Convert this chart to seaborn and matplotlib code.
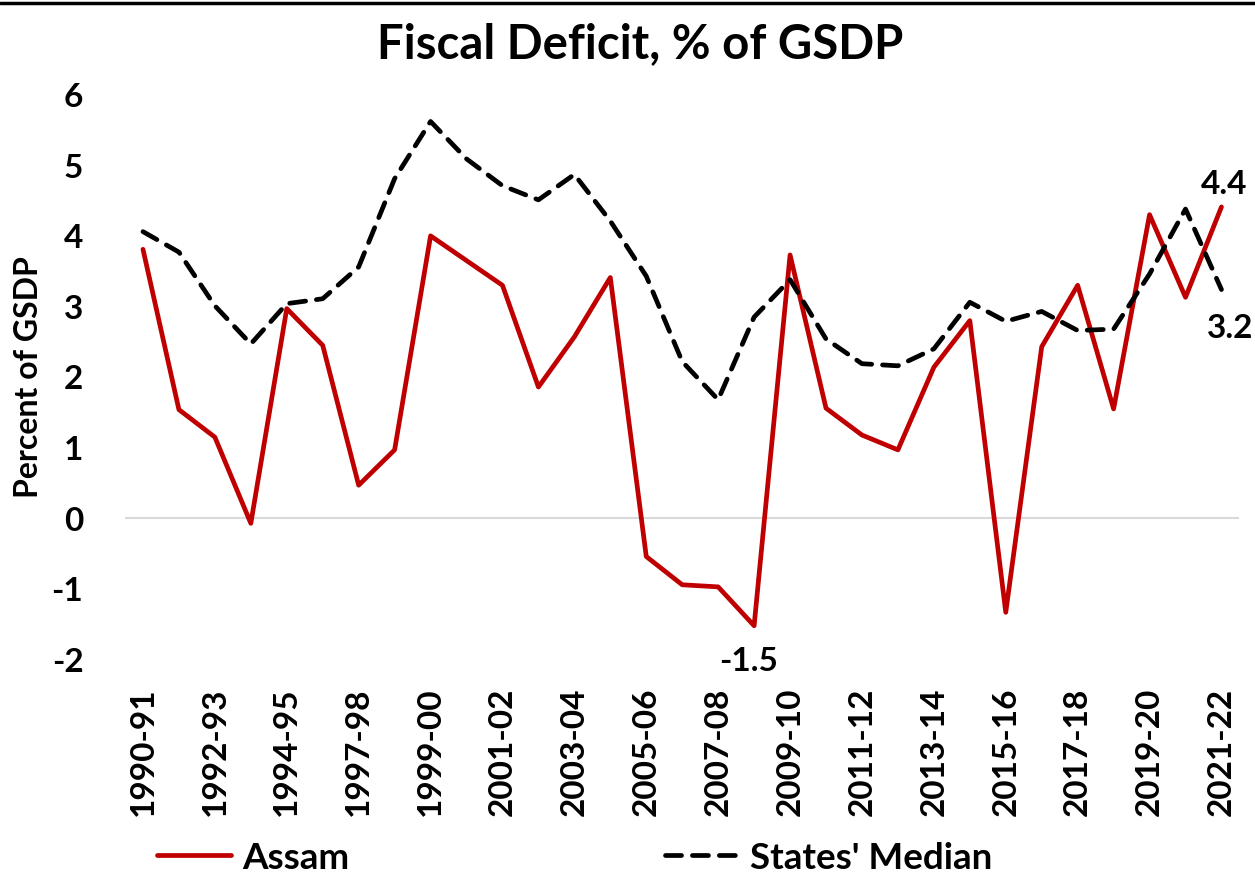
import matplotlib
matplotlib.use('Agg')
import matplotlib.pyplot as plt
from matplotlib.lines import Line2D
import seaborn as sns
import pandas as pd

# Data
years = ['1990-91', '1991-92', '1992-93', '1993-94', '1994-95', '1995-96',
         '1997-98', '1998-99', '1999-00', '2000-01', '2001-02', '2002-03',
         '2003-04', '2004-05', '2005-06', '2006-07', '2007-08', '2008-09',
         '2009-10', '2010-11', '2011-12', '2012-13', '2013-14', '2014-15',
         '2015-16', '2016-17', '2017-18', '2018-19', '2019-20', '2020-21',
         '2021-22']
assam = [3.80, 1.53, 1.14, -0.08, 2.96, 2.44, 0.46, 0.96, 3.99, 3.64, 3.29,
         1.85, 2.56, 3.40, -0.55, -0.95, -0.98, -1.53, 3.72, 1.55, 1.17,
         0.96, 2.13, 2.79, -1.34, 2.42, 3.29, 1.54, 4.29, 3.12, 4.40]
median = [4.05, 3.76, 3.00, 2.46, 3.03, 3.10, 3.55, 4.80, 5.61, 5.08, 4.70,
          4.50, 4.86, 4.20, 3.42, 2.21, 1.67, 2.84, 3.37, 2.53, 2.18,
          2.15, 2.39, 3.05, 2.78, 2.92, 2.65, 2.67, 3.45, 4.37, 3.23]

sns.set_style("white")
plt.rcParams['font.family'] = ['Lato', 'DejaVu Sans']
plt.rcParams['font.weight'] = 'bold'
plt.rcParams['axes.unicode_minus'] = False
plt.rcParams['text.color'] = 'black'
plt.rcParams['axes.labelcolor'] = 'black'
plt.rcParams['xtick.color'] = 'black'
plt.rcParams['ytick.color'] = 'black'

df = pd.DataFrame({'year': years, 'Assam': assam, "States' Median": median})

fig = plt.figure(figsize=(12.55, 8.87), dpi=100)
ax = fig.add_axes([0.0996, 0.256, 0.888, 0.637])

sns.lineplot(data=df, x='year', y='Assam', ax=ax, color='#c00000',
             linewidth=3.4, label='Assam', sort=False)
sns.lineplot(data=df, x='year', y="States' Median", ax=ax, color='black',
             linewidth=3.4, label="States' Median", sort=False)
ax.lines[1].set_dashes((3.4, 2.3))
ax.lines[1].set_dash_capstyle('round')

ax.axhline(0, color='#d9d9d9', linewidth=1.5, zorder=0)

ax.set_xlim(-0.5, len(years) - 0.5)
ax.set_ylim(-2, 6)
ax.set_yticks(range(-2, 7))
ax.set_xticks(range(0, len(years), 2))
ax.set_xticklabels(years[::2], rotation=90)
ax.tick_params(axis='x', labelsize=24, pad=20, length=0)
ax.tick_params(axis='y', labelsize=24, pad=30, length=0)
for spine in ax.spines.values():
    spine.set_visible(False)

ax.set_xlabel('')
ax.set_ylabel('Percent of GSDP', fontsize=23, fontweight='bold', labelpad=6)

# end / min labels
ax.annotate(f'{assam[-1]:.1f}', (len(years) - 1, assam[-1]),
            xytext=(2, 17), textcoords='offset points',
            ha='center', va='center', fontsize=24)
ax.annotate(f'{median[-1]:.1f}', (len(years) - 1, median[-1]),
            xytext=(6, -27), textcoords='offset points',
            ha='center', va='center', fontsize=24)
imin = assam.index(min(assam))
ax.annotate(f'{assam[imin]:.1f}', (imin, assam[imin]),
            xytext=(-4, -25), textcoords='offset points',
            ha='center', va='center', fontsize=24)

fig.text(0.51, 0.95, 'Fiscal Deficit, % of GSDP', ha='center', va='center',
         fontsize=34, fontweight='bold')

handles, labels = ax.get_legend_handles_labels()
ax.get_legend().remove()
fig.legend(handles, labels, loc='center', bbox_to_anchor=(0.458, 0.032),
           ncol=2, frameon=False, fontsize=26.5, handlelength=2.0,
           columnspacing=8.6, handletextpad=0.3)

fig.add_artist(Line2D([0, 1], [0.996, 0.996], transform=fig.transFigure,
                      color='black', linewidth=2.5))

fig.savefig('out.png', dpi=100)
